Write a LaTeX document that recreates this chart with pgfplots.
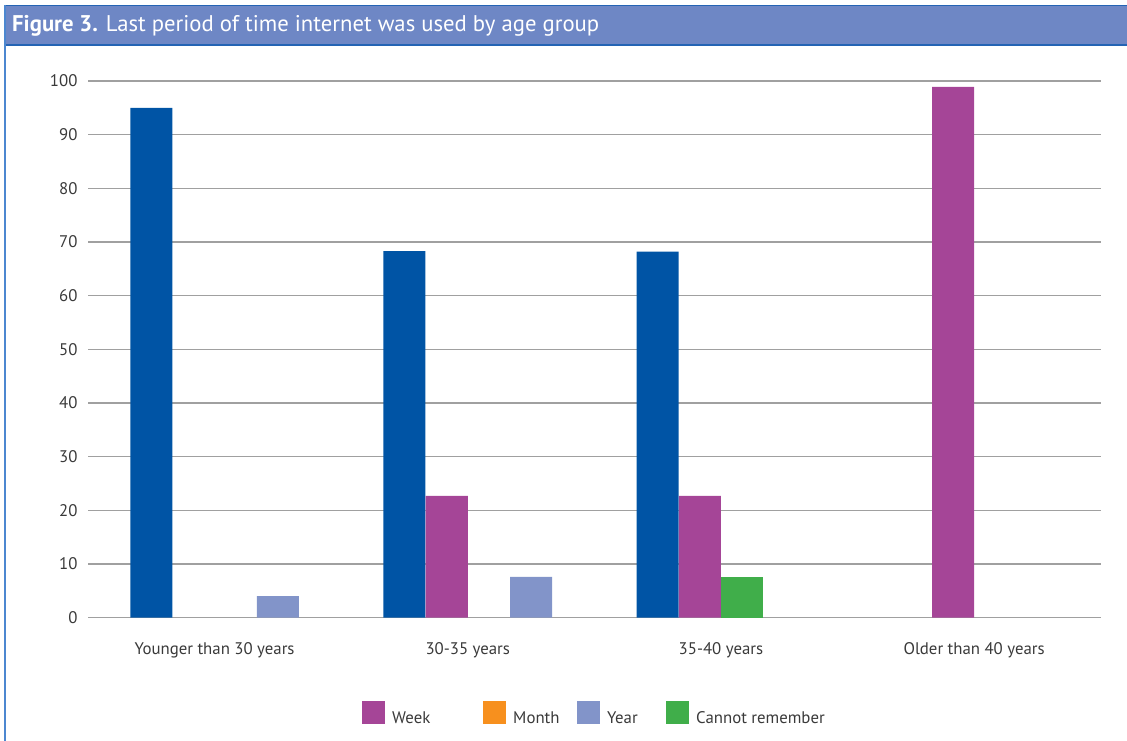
\documentclass[border=0pt]{standalone}
\usepackage{fontspec}
\setmainfont{PT Sans}
\usepackage{pgfplots}
\pgfplotsset{compat=1.18}
\definecolor{cday}{HTML}{0054A5}
\definecolor{cweek}{HTML}{A54597}
\definecolor{cmonth}{HTML}{F7901E}
\definecolor{cyear}{HTML}{8294C9}
\definecolor{ccr}{HTML}{40AE4A}
\definecolor{titlebg}{HTML}{6E87C5}
\definecolor{titleline}{HTML}{2464B4}
\definecolor{leftline}{HTML}{4C87D0}
\definecolor{lab}{HTML}{3A3A3A}
\definecolor{gridc}{HTML}{A0A0A0}
\pgfplotsset{
  mybar/.style={ybar, bar shift=0pt, bar width=0.166, draw=none, fill=#1,
    legend image code/.code={\fill[##1] (0pt,-6pt) rectangle (23pt,17pt);}},
}
\begin{document}
\begin{tikzpicture}
\useasboundingbox (0pt,0pt) rectangle (1127pt,-741pt);
\fill[titlebg] (4pt,-5pt) rectangle (1127pt,-45pt);
\draw[titleline, line width=1.5pt] (4pt,-5.75pt) -- (1127pt,-5.75pt);
\draw[titleline, line width=1.5pt] (4pt,-45pt) -- (1127pt,-45pt);
\draw[leftline, line width=2pt] (5pt,-5pt) -- (5pt,-741pt);
\node[anchor=west, text=white, font=\fontsize{22.7}{27}\selectfont, inner sep=0pt] at (12pt,-26pt)
  {\textbf{Figure 3.} Last period of time internet was used by age group};
\begin{axis}[
  at={(88pt,-617.7pt)}, anchor=south west,
  scale only axis, width=1012.7pt, height=536.7pt,
  xmin=-0.5, xmax=3.5, ymin=0, ymax=100,
  axis line style={draw=none},
  major tick length=0pt,
  ytick={0,10,...,100},
  xtick={0,1,2,3},
  xticklabels={Younger than 30 years, 30-35 years, 35-40 years, Older than 40 years},
  ymajorgrids,
  major grid style={gridc, line width=1.5pt},
  tick label style={font=\fontsize{16.8}{20}\selectfont, text=lab},
  /pgf/number format/assume math mode=true,
  yticklabel style={xshift=-7pt},
  xticklabel style={yshift=-21pt},
  legend columns=4,
  legend style={at={(axis description cs:0.2706,-0.180)}, anchor=west,
    draw=none, fill=none, inner sep=0pt,
    font=\fontsize{16.8}{20}\selectfont, text=lab},
  clip=false,
]
\addplot[mybar=cday, forget plot] coordinates {(-0.25,95) (0.75,68.3) (1.75,68.2)};
\addplot[mybar=cweek] coordinates {(0.917,22.7) (1.917,22.7) (2.917,98.9)};
\addlegendentry{\makebox[94pt][l]{\hspace{5pt}Week}}
\addlegendimage{mybar=cmonth}
\addlegendentry{\makebox[67pt][l]{\hspace{5pt}Month}}
\addplot[mybar=cyear] coordinates {(0.25,4) (1.25,7.6)};
\addlegendentry{\makebox[62pt][l]{\hspace{5pt}Year}}
\addplot[mybar=ccr] coordinates {(2.083,7.6)};
\addlegendentry{\hspace{5pt}Cannot remember}
\end{axis}
\end{tikzpicture}
\end{document}
